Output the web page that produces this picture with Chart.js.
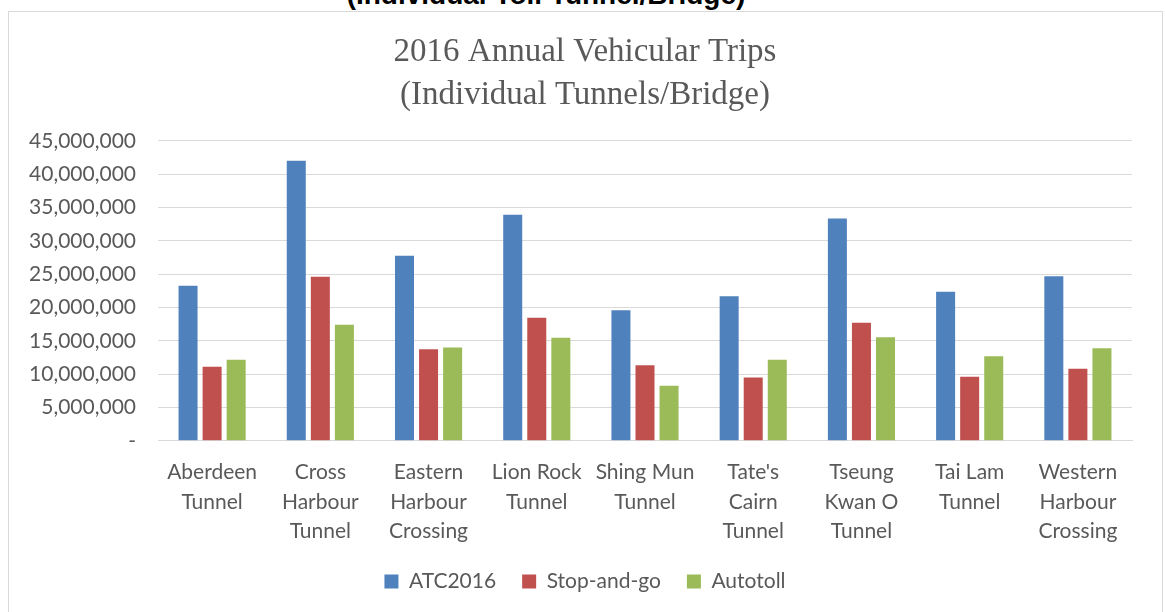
<!DOCTYPE html>
<html>
<head>
<meta charset="utf-8">
<script src="https://cdn.jsdelivr.net/npm/chart.js@4"></script>
<style>
  body { margin: 0; background: #fff; width: 1165px; height: 612px; overflow: hidden; position: relative; }
  #topnote {
    position: absolute; left: 345px; width: 402px; top: -21px; line-height: 32px;
    text-align: center; white-space: nowrap;
    font: bold 28px "Liberation Sans", sans-serif; color: #000;
  }
  #box {
    position: absolute; left: 8px; top: 11px; width: 1153px; height: 620px;
    border: 1px solid #d9d9d9; background: #fff;
  }
  #chart { position: absolute; left: 0; top: 0; }
</style>
</head>
<body>
<div id="topnote">(Individual Toll Tunnel/Bridge)</div>
<div id="box"><canvas id="chart" width="1152" height="600"></canvas></div>
<script>
/* data */
const tunnels = [
  ['Aberdeen', 'Tunnel'],
  ['Cross', 'Harbour', 'Tunnel'],
  ['Eastern', 'Harbour', 'Crossing'],
  ['Lion Rock', 'Tunnel'],
  ['Shing Mun', 'Tunnel'],
  ["Tate's", 'Cairn', 'Tunnel'],
  ['Tseung', 'Kwan O', 'Tunnel'],
  ['Tai Lam', 'Tunnel'],
  ['Western', 'Harbour', 'Crossing']
]
const atc2016 = [23250000, 42000000, 27750000, 33900000, 19600000, 21700000, 33350000, 22350000, 24700000]
const stopAndGo = [11100000, 24600000, 13750000, 18450000, 11350000, 9500000, 17700000, 9600000, 10800000]
const autotoll = [12150000, 17400000, 14000000, 15450000, 8250000, 12150000, 15550000, 12700000, 13900000]
const yTicks = [0, 5000000, 10000000, 15000000, 20000000, 25000000, 30000000, 35000000, 40000000, 45000000]

const colors = {
    blue: "#4f81bd",
    red: "#c0504d",
    green: "#9bbb59",
    text: "#595959",
    grid: "#d9d9d9"
}

const labelFont = { family: 'Lato, "Liberation Sans", sans-serif', size: 21 }

const ctx = document.getElementById('chart').getContext('2d')
const myChart = new Chart(ctx, {
    type: 'bar',
    data: {
        labels: tunnels,
        datasets: [
            { label: 'ATC2016', data: atc2016, backgroundColor: colors.blue },
            { label: 'Stop-and-go', data: stopAndGo, backgroundColor: colors.red },
            { label: 'Autotoll', data: autotoll, backgroundColor: colors.green }
        ]
    },
    options: {
        responsive: false,
        animation: false,
        categoryPercentage: 0.667,
        barPercentage: 0.79,
        layout: { padding: { left: 0, right: 0, top: 0, bottom: 10 } },
        plugins: {
            title: {
                display: true,
                text: ['2016 Annual Vehicular Trips', '(Individual Tunnels/Bridge)'],
                color: colors.text,
                font: { family: '"Liberation Serif", serif', size: 33, weight: 'normal', lineHeight: 1.3 },
                padding: { top: 19, bottom: 24 }
            },
            legend: {
                position: 'bottom',
                labels: {
                    color: colors.text,
                    font: labelFont,
                    boxWidth: 14,
                    boxHeight: 14,
                    padding: 26
                }
            },
            tooltip: { enabled: false }
        },
        scales: {
            x: {
                afterFit: function(scale) { scale.height = scale.height - 18 },
                grid: { display: false, drawTicks: false },
                border: { color: colors.grid, width: 1 },
                ticks: {
                    color: colors.text,
                    font: Object.assign({ lineHeight: 1.4 }, labelFont),
                    padding: 17,
                    maxRotation: 0,
                    autoSkip: false
                }
            },
            y: {
                min: 0,
                max: 45000000,
                afterFit: function(scale) { scale.width = 149 },
                afterBuildTicks: function(scale) {
                    scale.ticks = yTicks.map(function(v) { return { value: v } })
                },
                grid: { color: colors.grid, lineWidth: 1, drawTicks: false },
                border: { display: false },
                ticks: {
                    color: colors.text,
                    font: labelFont,
                    padding: 22,
                    callback: function(v) { return v === 0 ? '-' : v.toLocaleString('en') }
                }
            },
            // empty right axis, only keeps the plot away from the right border
            yRight: {
                position: 'right',
                afterFit: function(scale) { scale.width = 29 },
                grid: { display: false, drawTicks: false },
                border: { display: false },
                ticks: { display: false }
            }
        }
    }
})
</script>
</body>
</html>
